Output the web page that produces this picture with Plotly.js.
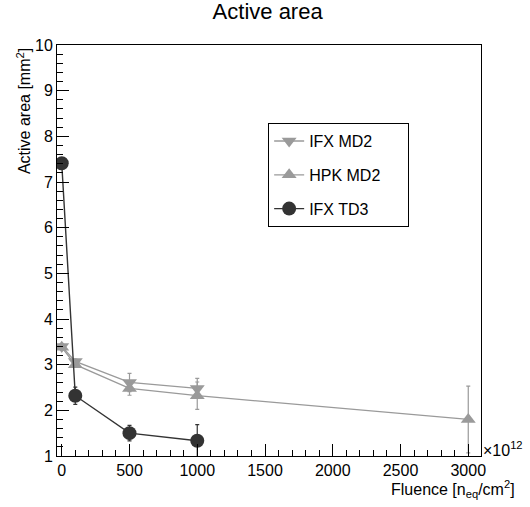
<!DOCTYPE html>
<html>
<head>
<meta charset="utf-8">
<script src="https://cdn.plot.ly/plotly-3.0.1.min.js"></script>
<style>html,body{margin:0;padding:0;background:#fff}#chart{width:530px;height:507px}</style>
</head>
<body>
<div id="chart"></div>
<script>
// Data (fluence in units of 1e12 n_eq/cm^2)
const fluenceMD2 = [0, 100, 500, 1000];
const ifxMD2 = [3.40, 3.07, 2.61, 2.48];
const ifxMD2Err = [0.05, 0.05, 0.20, 0.22];

const fluenceHPK = [0, 100, 500, 1000, 3000];
const hpkMD2 = [3.38, 3.00, 2.48, 2.32, 1.80];
const hpkMD2Err = [0.05, 0.05, 0.15, 0.30, 0.73];

const fluenceTD3 = [0, 100, 500, 1000];
const ifxTD3 = [7.41, 2.32, 1.50, 1.335];
const ifxTD3Err = [0.05, 0.19, 0.17, 0.35];

const seriesNames = ['IFX MD2', 'HPK MD2', 'IFX TD3'];
const yTicks = [1, 2, 3, 4, 5, 6, 7, 8, 9, 10];
const xTicks = [0, 500, 1000, 1500, 2000, 2500, 3000];

const FONT = 'Liberation Sans, Arial, Helvetica, sans-serif';
const grey = '#9a9a9a';
const dark = '#333333';
const pad = '\u00a0\u00a0\u00a0\u00a0\u00a0';

const traces = [
  {
    x: fluenceMD2, y: ifxMD2, name: seriesNames[0] + pad, type: 'scatter', mode: 'lines+markers',
    legendgroup: 'a',
    line: {color: grey, width: 1.3},
    marker: {symbol: 'triangle-down', size: 13, color: grey},
    error_y: {type: 'data', array: ifxMD2Err, visible: true, color: grey, thickness: 1.2, width: 2}
  },
  {
    x: fluenceHPK, y: hpkMD2, name: seriesNames[1] + pad, type: 'scatter', mode: 'lines+markers',
    legendgroup: 'b',
    line: {color: grey, width: 1.3},
    marker: {symbol: 'triangle-up', size: 13, color: grey},
    error_y: {type: 'data', array: hpkMD2Err, visible: true, color: grey, thickness: 1.2, width: 2}
  },
  {
    x: fluenceTD3, y: ifxTD3, name: seriesNames[2] + pad, type: 'scatter', mode: 'lines+markers',
    legendgroup: 'c',
    line: {color: dark, width: 1.4},
    marker: {symbol: 'circle', size: 14, color: dark},
    error_y: {type: 'data', array: ifxTD3Err, visible: true, color: dark, thickness: 1.2, width: 2}
  }
];

const layout = {
  width: 530, height: 507,
  margin: {l: 57, r: 49, t: 45, b: 51},
  paper_bgcolor: '#fff', plot_bgcolor: '#fff',
  font: {family: FONT, size: 15, color: '#000'},
  showlegend: true,
  title: {text: 'Active area', font: {family: FONT, size: 22, color: '#000'}, x: 0.505, xanchor: 'center', y: 0.977, yanchor: 'middle'},
  xaxis: {
    range: [-35, 3094], showgrid: false, zeroline: false,
    showline: true, linecolor: '#000', linewidth: 1, mirror: true,
    tickmode: 'array', tickvals: xTicks, ticktext: xTicks.map(String),
    ticks: 'inside', ticklen: 12, tickwidth: 1, tickcolor: '#000',
    minor: {dtick: 100, ticks: 'inside', ticklen: 6, tickwidth: 1, tickcolor: '#000'},
    tickfont: {family: FONT, size: 16}
  },
  yaxis: {
    range: [1, 10], showgrid: false, zeroline: false,
    showline: true, linecolor: '#000', linewidth: 1, mirror: true,
    tickmode: 'array', tickvals: yTicks, ticktext: yTicks.map(String),
    ticks: 'inside', ticklen: 12, tickwidth: 1, tickcolor: '#000',
    minor: {dtick: 0.2, ticks: 'inside', ticklen: 6, tickwidth: 1, tickcolor: '#000'},
    tickfont: {family: FONT, size: 16}
  },
  legend: {
    x: 0.498, y: 0.81, xanchor: 'left', yanchor: 'top',
    bordercolor: '#000', borderwidth: 1, bgcolor: '#fff',
    font: {family: FONT, size: 16},
    traceorder: 'grouped', tracegroupgap: 10, itemwidth: 30
  },
  annotations: [
    {xref: 'paper', yref: 'paper', x: 1.085, y: -0.08, xanchor: 'right', yanchor: 'middle', showarrow: false,
     text: 'Fluence [n<sub>eq</sub>/cm<sup>2</sup>]', font: {family: FONT, size: 16}},
    {xref: 'paper', yref: 'paper', x: 1.0, y: 0.017, xanchor: 'left', yanchor: 'middle', showarrow: false,
     text: '×10<sup>12</sup>', font: {family: FONT, size: 16}},
    {xref: 'paper', yref: 'paper', x: -0.078, y: 0.839, xanchor: 'center', yanchor: 'middle', showarrow: false, textangle: -90,
     text: 'Active area [mm<sup>2</sup>]', font: {family: FONT, size: 16}}
  ]
};

Plotly.newPlot('chart', traces, layout, {displayModeBar: false, staticPlot: true});
</script>
</body>
</html>
